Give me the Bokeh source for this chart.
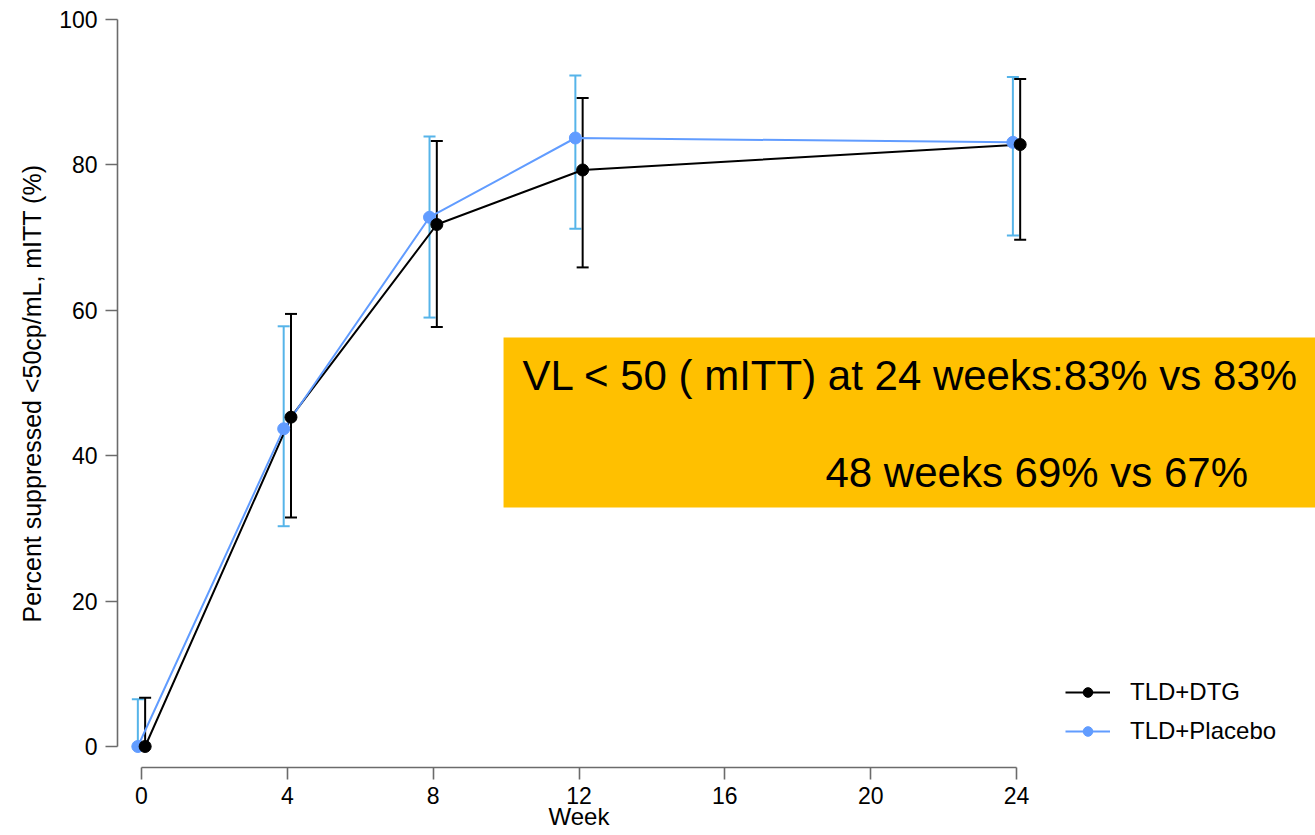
from bokeh.plotting import figure
from bokeh.models import (ColumnDataSource, Whisker, TeeHead, Legend, LegendItem,
                          LinearAxis, FixedTicker, Range1d)
from bokeh.core.properties import value
from bokeh.embed import file_html
from bokeh.resources import INLINE

# ---- data ----
weeks = [0, 4, 8, 12, 24]
dtg = [0.0, 45.3, 71.8, 79.3, 82.8]
dtg_lo = [0.0, 31.5, 57.7, 65.9, 69.7]
dtg_hi = [6.7, 59.5, 83.3, 89.2, 91.8]
pla = [0.0, 43.7, 72.8, 83.7, 83.1]
pla_lo = [0.0, 30.3, 59.0, 71.2, 70.3]
pla_hi = [6.5, 57.8, 83.9, 92.3, 92.1]
series_names = ["TLD+DTG", "TLD+Placebo"]
x_ticks = [0, 4, 8, 12, 16, 20, 24]
y_ticks = [0, 20, 40, 60, 80, 100]
note_lines = ["VL < 50 ( mITT) at 24 weeks:83% vs 83%", "48 weeks 69% vs 67%"]
x_title = "Week"
y_title = "Percent suppressed <50cp/mL, mITT (%)"

FONT = "Liberation Sans"
BLACK = "#000000"
BLUE = "#619CFF"
BLUE_ERR = "#56B4E9"
AXIS = "#6b6b6b"
dodge = 0.1

p = figure(width=1315, height=835, output_backend="svg", toolbar_location=None,
           x_range=Range1d(-0.658, 32.2), y_range=Range1d(-2.89, 100),
           min_border_left=117, min_border_right=0, min_border_top=19,
           min_border_bottom=68)
p.outline_line_color = None
p.grid.visible = False
p.background_fill_color = "white"
p.border_fill_color = "white"

src_d = ColumnDataSource(dict(x=[w + dodge for w in weeks], y=dtg, lo=dtg_lo, hi=dtg_hi))
src_p = ColumnDataSource(dict(x=[w - dodge for w in weeks], y=pla, lo=pla_lo, hi=pla_hi))

# annotation box
p.quad(left=[9.93], right=[40], bottom=[32.87], top=[56.26],
       fill_color="#FFC000", line_color=None)
p.text(x=[10.45], y=[51.0], text=[note_lines[0]], text_font=value(FONT),
       text_font_size="42px", text_baseline="middle", text_align="left", text_color="black")
p.text(x=[18.76], y=[37.7], text=[note_lines[1]], text_font=value(FONT),
       text_font_size="42px", text_baseline="middle", text_align="left", text_color="black")

# error bars
for src, col in ((src_p, BLUE_ERR), (src_d, BLACK)):
    w = Whisker(source=src, base="x", lower="lo", upper="hi", dimension="height",
                line_color=col, line_width=2,
                upper_head=TeeHead(size=12, line_color=col, line_width=2),
                lower_head=TeeHead(size=12, line_color=col, line_width=2))
    p.add_layout(w)

l1 = p.line("x", "y", source=src_d, line_color=BLACK, line_width=2)
l2 = p.line("x", "y", source=src_p, line_color=BLUE, line_width=2)
s2 = p.scatter("x", "y", source=src_p, size=12, fill_color=BLUE, line_color=BLUE)
s1 = p.scatter("x", "y", source=src_d, size=12, fill_color=BLACK, line_color=BLACK)

legend = Legend(items=[LegendItem(label=series_names[0], renderers=[l1, s1]),
                       LegendItem(label=series_names[1], renderers=[l2, s2])],
                location=(948, 22), border_line_color=None, background_fill_alpha=0,
                padding=0, margin=0, spacing=11, glyph_width=45, glyph_height=24,
                label_height=24, label_standoff=20,
                label_text_font=FONT, label_text_font_size="24px", label_text_color="black")
p.add_layout(legend, "center")

# axes
for ax in (p.xaxis[0], p.yaxis[0]):
    ax.axis_line_color = AXIS
    ax.axis_line_width = 1.6
    ax.major_tick_line_color = AXIS
    ax.major_tick_line_width = 1.6
    ax.major_tick_out = 12
    ax.major_tick_in = 0
    ax.minor_tick_line_color = None
    ax.major_label_text_font = FONT
    ax.major_label_text_font_size = "23px"
    ax.major_label_text_color = "black"
    ax.axis_label_text_font = FONT
    ax.axis_label_text_font_size = "25px"
    ax.axis_label_text_font_style = "normal"
    ax.axis_label_text_color = "black"

p.xaxis.ticker = FixedTicker(ticks=x_ticks)
p.yaxis.ticker = FixedTicker(ticks=y_ticks)
p.xaxis.bounds = (x_ticks[0], x_ticks[-1])
p.yaxis.bounds = (y_ticks[0], y_ticks[-1])
p.xaxis.major_label_standoff = 7
p.yaxis.major_label_standoff = 8
p.yaxis.axis_label = y_title
p.yaxis.axis_label_standoff = 10

# x title placed under week 12, drawn as the only label of a second bottom axis
title_axis = LinearAxis(ticker=FixedTicker(ticks=[12]), major_label_overrides={12: x_title},
                        axis_line_color=None, major_tick_line_color=None,
                        minor_tick_line_color=None, major_tick_out=0, major_tick_in=0,
                        major_label_standoff=-4, major_label_text_font=FONT,
                        major_label_text_font_size="24px", major_label_text_color="black")
p.add_layout(title_axis, "below")

open("out.html", "w").write(file_html(p, INLINE))
